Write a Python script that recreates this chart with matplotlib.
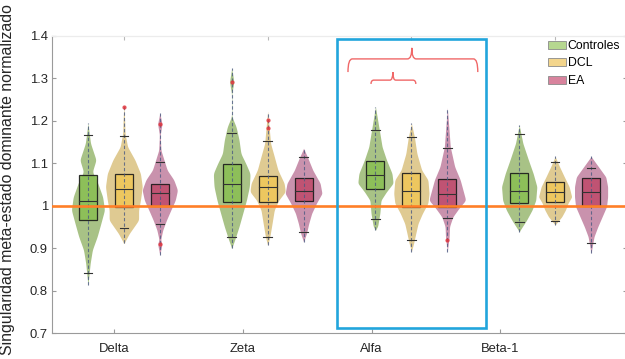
import numpy as np
import matplotlib
matplotlib.use("Agg")
import matplotlib.pyplot as plt
from matplotlib.patches import Rectangle, Patch
from matplotlib.path import Path
from matplotlib.patches import PathPatch

plt.rcParams['font.family'] = ['Liberation Sans', 'DejaVu Sans']

# ---------------- data ----------------
bands = ["Delta", "Zeta", "Alfa", "Beta-1"]
groups = ["Controles", "DCL", "EA"]
band_pos = [1, 2, 3, 4]
tick_pos = [0.931, 1.829, 2.724, 3.617]
yticks = [0.7, 0.8, 0.9, 1.0, 1.1, 1.2, 1.3, 1.4]
ref_value = 1.0

# box statistics: (whisker low, q1, median, q3, whisker high)
box_delta = [(0.841, 0.966, 1.010, 1.072, 1.167),
             (0.947, 0.996, 1.039, 1.074, 1.165),
             (0.956, 0.999, 1.031, 1.051, 1.104)]
box_zeta = [(0.927, 1.008, 1.051, 1.098, 1.172),
            (0.927, 1.008, 1.045, 1.069, 1.153),
            (0.939, 1.010, 1.035, 1.065, 1.114)]
box_alfa = [(0.969, 1.039, 1.072, 1.105, 1.178),
            (0.919, 0.998, 1.035, 1.078, 1.163),
            (0.972, 0.998, 1.028, 1.063, 1.135)]
box_beta = [(0.961, 1.006, 1.035, 1.076, 1.169),
            (0.965, 1.009, 1.033, 1.057, 1.104),
            (0.913, 1.000, 1.033, 1.065, 1.090)]

out_delta = [[], [1.233], [1.193, 0.910]]
out_zeta = [[1.292], [1.202, 1.182], []]
out_alfa = [[], [], [0.919]]
out_beta = [[], [], []]

# violin density profiles (value levels, relative density)
vl_delta = [[1.194, 1.147, 1.108, 1.080, 1.057, 1.021, 0.990, 0.958, 0.927, 0.896, 0.864, 0.813],
            [1.237, 1.202, 1.171, 1.139, 1.108, 1.076, 1.045, 1.013, 0.990, 0.966, 0.951, 0.935, 0.911],
            [1.218, 1.193, 1.167, 1.131, 1.084, 1.061, 1.037, 1.013, 0.990, 0.966, 0.943, 0.927, 0.920, 0.910, 0.884]]
vd_delta = [[0, 7, 22, 12, 25, 40, 45, 35, 25, 12, 6, 0],
            [0, 2, 3, 10, 30, 45, 50, 45, 40, 40, 28, 15, 0],
            [0, 6, 1, 3, 20, 38, 48, 42, 30, 18, 8, 4, 2, 6, 0]]
vl_zeta = [[1.324, 1.292, 1.265, 1.210, 1.186, 1.155, 1.123, 1.100, 1.076, 1.045, 1.013, 0.982, 0.951, 0.919, 0.900],
           [1.222, 1.186, 1.147, 1.116, 1.084, 1.053, 1.033, 1.013, 0.990, 0.958, 0.927, 0.907],
           [1.135, 1.116, 1.084, 1.053, 1.029, 1.006, 0.982, 0.958, 0.935, 0.915]]
vd_zeta = [[0, 6, 0.5, 0.5, 12, 20, 25, 38, 50, 48, 40, 30, 20, 8, 0],
           [0, 4, 8, 18, 28, 45, 48, 30, 18, 12, 6, 0],
           [0, 10, 25, 45, 50, 35, 22, 14, 8, 0]]
vl_alfa = [[1.233, 1.202, 1.171, 1.139, 1.108, 1.076, 1.053, 1.033, 1.013, 0.982, 0.951, 0.943],
           [1.194, 1.163, 1.123, 1.084, 1.061, 1.029, 1.006, 0.982, 0.958, 0.935, 0.911, 0.892],
           [1.230, 1.186, 1.139, 1.092, 1.061, 1.029, 1.013, 0.998, 0.974, 0.951, 0.927, 0.892]]
vd_alfa = [[0, 6, 12, 18, 30, 45, 48, 30, 15, 12, 6, 0],
           [0, 8, 15, 28, 45, 48, 45, 30, 18, 12, 6, 0],
           [0, 4, 8, 20, 35, 45, 50, 35, 15, 6, 5, 0]]
vl_beta = [[1.190, 1.147, 1.108, 1.076, 1.045, 1.013, 0.990, 0.966, 0.939],
           [1.116, 1.092, 1.068, 1.045, 1.021, 1.006, 0.990, 0.974, 0.955],
           [1.116, 1.092, 1.068, 1.045, 1.021, 0.998, 0.974, 0.950, 0.927, 0.888]]
vd_beta = [[0, 10, 25, 38, 48, 45, 35, 20, 0],
           [0, 12, 25, 38, 45, 35, 28, 18, 0],
           [0, 20, 40, 45, 45, 42, 30, 18, 8, 0]]

all_box = [box_delta, box_zeta, box_alfa, box_beta]
all_out = [out_delta, out_zeta, out_alfa, out_beta]
all_vl = [vl_delta, vl_zeta, vl_alfa, vl_beta]
all_vd = [vd_delta, vd_zeta, vd_alfa, vd_beta]

# ---------------- style ----------------
violin_colors = ['#a8c286', '#dfca92', '#c992ad']
box_colors = ['#8abf55', '#efc75a', '#c04d6d']
legend_colors = ['#b6d790', '#f3d58c', '#d8839d']
offsets = [-0.25, 0.0, 0.25]
violin_halfwidth = 0.128
box_half = 0.0625
cap_half = 0.03

fig = plt.figure(figsize=(6.25, 3.59), dpi=100)
ax = fig.add_axes([52 / 625, (359 - 333) / 359, (627 - 52) / 625, (333 - 36) / 359])
ax.set_xlim(0.5, 4.5)
ax.set_ylim(0.7, 1.4)


def smooth(w, k=3):
    ker = np.exp(-0.5 * (np.arange(-3 * k, 3 * k + 1) / k) ** 2)
    ker /= ker.sum()
    pad = np.pad(w, 3 * k, mode='constant')
    return np.convolve(pad, ker, mode='valid')


for b in range(4):
    for g in range(3):
        x0 = band_pos[b] + offsets[g]
        lv = np.array(all_vl[b][g])
        dv = np.array(all_vd[b][g], dtype=float)
        order = np.argsort(lv)
        lv, dv = lv[order], dv[order]
        yy = np.linspace(lv.min(), lv.max(), 300)
        ww = np.interp(yy, lv, dv)
        ww = smooth(ww)
        ww = ww / 50.0 * violin_halfwidth
        ax.fill_betweenx(yy, x0 - ww, x0 + ww, color=violin_colors[g], lw=0, zorder=2)
        # center dashed line
        ax.plot([x0, x0], [lv.min(), lv.max()], ls=(0, (3, 2)), color='#4b5a82',
                lw=0.8, zorder=4, alpha=0.8)
        lo, q1, med, q3, hi = all_box[b][g]
        ax.add_patch(Rectangle((x0 - box_half, q1), 2 * box_half, q3 - q1,
                               facecolor=box_colors[g], edgecolor='#1a1a1a',
                               lw=0.9, zorder=3, alpha=0.9))
        ax.plot([x0 - box_half, x0 + box_half], [med, med], color='#333333', lw=0.8, zorder=5)
        for v in (lo, hi):
            ax.plot([x0 - cap_half, x0 + cap_half], [v, v], color='#333333', lw=0.8, zorder=5)
        for o in all_out[b][g]:
            ax.plot([x0], [o], marker='o', ms=3, color='#e0343c', mec='none', zorder=6, alpha=0.85)

# reference line
ax.axhline(ref_value, color='#ff7f27', lw=1.9, zorder=7)

# highlight rectangle around Alfa
alfa = band_pos[2]
ax.add_patch(Rectangle((alfa - 0.517, 0.712), 1.034, 1.393 - 0.712, fill=False,
                       edgecolor='#22a5dc', lw=1.9, zorder=8, clip_on=False))


def brace(xl, xr, xm, y_end, y_main, y_peak, d):
    verts = [(xl, y_end), (xl, y_main), (xl + d, y_main),
             (xm - d, y_main), (xm, y_main), (xm, y_peak),
             (xm, y_main), (xm + d, y_main),
             (xr - d, y_main), (xr, y_main), (xr, y_end)]
    codes = [Path.MOVETO, Path.CURVE3, Path.CURVE3,
             Path.LINETO, Path.CURVE3, Path.CURVE3,
             Path.CURVE3, Path.CURVE3,
             Path.LINETO, Path.CURVE3, Path.CURVE3]
    ax.add_patch(PathPatch(Path(verts, codes), fill=False, edgecolor='#f06868', lw=1.0, zorder=8))


brace(alfa - 0.441, alfa + 0.462, alfa + 0.003, 1.315, 1.346, 1.372, 0.03)
brace(alfa - 0.281, alfa + 0.031, alfa - 0.129, 1.287, 1.296, 1.315, 0.02)

# axes styling
for side in ['left', 'bottom', 'right']:
    ax.spines[side].set_color('#9a9a9a')
    ax.spines[side].set_linewidth(0.8)
ax.spines['top'].set_color('#ececec')
ax.spines['top'].set_linewidth(0.8)

ax.set_xticks(tick_pos)
ax.set_xticklabels(bands, fontsize=9.4, color='#262626')
ax.set_yticks(yticks)
ax.set_yticklabels(['%g' % v for v in yticks], fontsize=9.4, color='#262626')
ax.tick_params(axis='x', direction='in', length=3, color='#9a9a9a', pad=7.5)
ax.tick_params(axis='y', direction='in', length=3, color='#9a9a9a', pad=3, right=True)

sec = ax.secondary_xaxis('top')
sec.set_xticks(band_pos)
sec.set_xticklabels([])
sec.tick_params(direction='in', length=3, color='#b8b8b8')
sec.spines['top'].set_color('#ececec')

fig.text(8 / 625, (359 - 180) / 359, 'Singularidad meta-estado dominante normalizado',
         rotation=90, ha='center', va='center', fontsize=11.4, color='#262626')

handles = [Patch(facecolor=c, edgecolor='#8a8a8a', lw=0.6) for c in legend_colors]
leg = fig.legend(handles, groups, loc='upper left', bbox_to_anchor=(548 / 625, (359 - 40) / 359),
                 frameon=False, fontsize=8.8, handlelength=1.5, handleheight=0.6,
                 handletextpad=0.1, labelspacing=0.45, borderpad=0, borderaxespad=0)

fig.savefig('out.png', dpi=100)
